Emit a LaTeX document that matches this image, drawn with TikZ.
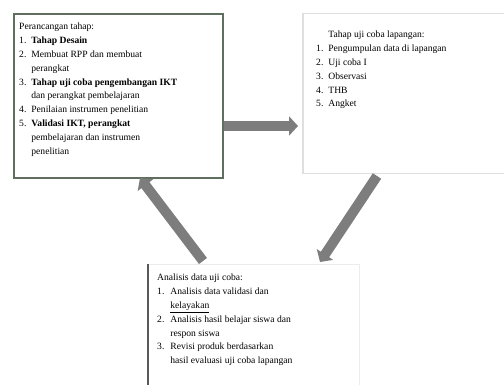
\documentclass[tikz,border=0pt]{standalone}
\usepackage{fontspec}
\setmainfont{Liberation Serif}
\usetikzlibrary{arrows.meta,calc}
\definecolor{lborder}{RGB}{95,110,95}
\definecolor{arrowgray}{RGB}{125,125,125}
\begin{document}
\begin{tikzpicture}[x=1pt,y=1pt,
  txt/.style={anchor=north west,inner sep=0pt,align=left,font=\fontsize{9.6}{13.8}\selectfont},
  blockarrow/.style={line width=10pt,color=arrowgray,-{Triangle[length=9pt,width=19pt]}}]
\useasboundingbox (0,0) rectangle (504,-385);
% boxes
\node[draw=lborder,line width=2pt,fill=white,minimum width=209pt,minimum height=164pt,anchor=north west,inner sep=0pt] (L) at (13,-13) {};
\node[draw=gray!25,line width=1.5pt,fill=white,minimum width=210pt,minimum height=160pt,anchor=north west,inner sep=0pt] (R) at (302,-13) {};
\node[draw=gray!15,line width=1pt,fill=white,minimum width=211pt,minimum height=125pt,anchor=north west,inner sep=0pt] (B) at (148,-264) {};
\draw[line width=2.5pt,gray!70!black] (B.north west) -- (B.south west);
% texts
\node[txt] (Lt) at (19,-20) {%
\begin{tabular}{@{}l@{\hspace{5pt}}l@{}}
\multicolumn{2}{@{}l}{Perancangan tahap:}\\
1. & \textbf{Tahap Desain}\\
2. & Membuat RPP dan membuat\\
   & perangkat\\
3. & \textbf{Tahap uji coba pengembangan IKT}\\
   & dan perangkat pembelajaran\\
4. & Penilaian instrumen penelitian\\
5. & \textbf{Validasi IKT, perangkat}\\
   & pembelajaran dan instrumen\\
   & penelitian
\end{tabular}};
\node[txt] (Rt) at (316,-28) {%
\begin{tabular}{@{}l@{\hspace{5pt}}l@{}}
 & Tahap uji coba lapangan:\\
1. & Pengumpulan data di lapangan\\
2. & Uji coba I\\
3. & Observasi\\
4. & THB\\
5. & Angket
\end{tabular}};
\node[txt] (Bt) at (157,-271) {%
\begin{tabular}{@{}l@{\hspace{6pt}}l@{}}
\multicolumn{2}{@{}l}{Analisis data uji coba:}\\
1. & Analisis data validasi dan\\
   & \underline{kelayakan}\\
2. & Analisis hasil belajar siswa dan\\
   & respon siswa\\
3. & Revisi produk berdasarkan\\
   & hasil evaluasi uji coba lapangan
\end{tabular}};
% arrow end points
\coordinate (a1s) at (L.east |- 0,-126);
\coordinate (a1e) at (298,-126);
\coordinate (a2s) at (377,-176);
\coordinate (a2e) at (320,-262);
\coordinate (a3s) at (203,-261);
\coordinate (a3e) at (140,-178);
\draw[blockarrow] (a1s) -- (a1e);
\draw[blockarrow] (a2s) -- (a2e);
\draw[blockarrow] (a3s) -- (a3e);
\end{tikzpicture}
\end{document}
